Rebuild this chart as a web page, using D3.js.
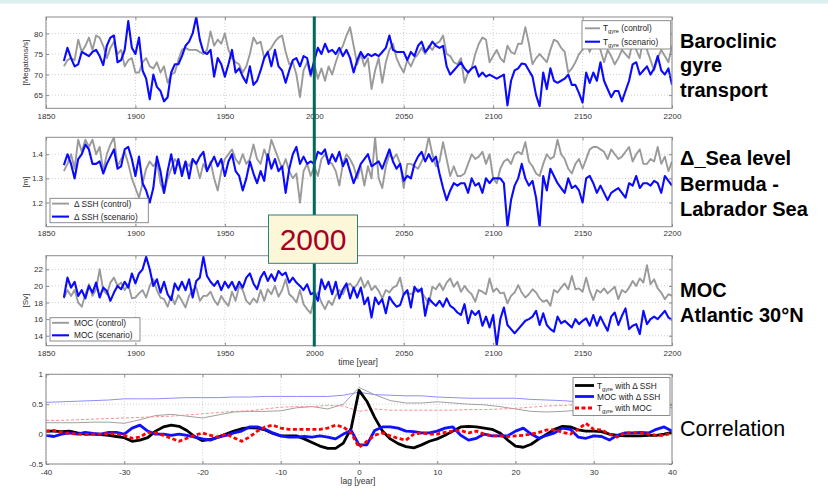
<!DOCTYPE html>
<html>
<head>
<meta charset="utf-8">
<script src="https://cdn.jsdelivr.net/npm/d3@7"></script>
<style>
  html, body { margin: 0; padding: 0; background: #ffffff; }
  svg { display: block; font-family: "Liberation Sans", Arial, Helvetica, sans-serif; }
</style>
</head>
<body>
<svg id="chart" width="828" height="495"></svg>
<script>
// ---------- time axis: model years 1860..2200, one value every 2 years ----------
const firstYear = 1860, lastYear = 2200, yearStep = 2;

// Baroclinic gyre transport [Megatons/s]
const tgyreControl = [
  72.0, 73.5, 74.0, 73.5, 78.5,  75.5, 77.0, 79.0, 76.0, 79.5,
  79.0, 77.0, 74.0, 76.5, 78.0,  75.0, 76.0, 72.0, 73.5, 74.0,
  70.5, 70.5, 73.0, 74.0, 72.0,  71.5, 73.0, 70.5, 72.0, 68.0,
  70.0, 70.5, 73.5, 76.0, 76.5,  76.0, 76.0, 76.0, 75.5, 75.0,
  76.0, 80.5, 77.0, 78.5, 77.5,  80.0, 76.0, 74.0, 73.0, 72.5,
  70.5, 72.0, 75.0, 79.0, 77.5,  78.0, 74.0, 75.5, 76.5, 78.0,
  79.0, 79.5, 75.5, 72.5, 73.0,  70.0, 64.5, 71.0, 73.0, 69.5,
  72.5, 69.0, 71.5, 68.5, 72.0,  70.0, 73.0, 75.5, 77.0, 79.5,
  81.5, 77.0, 72.5, 75.0, 72.0,  74.0, 66.5, 71.0, 74.0, 68.0,
  73.0, 76.0, 77.5, 74.0, 72.0,  70.5, 73.5, 72.0, 74.0, 75.0,
  76.5, 75.0, 77.0, 76.0, 77.5,  78.0, 79.5, 75.0, 74.5, 73.0,
  72.5, 74.0, 68.0, 70.5, 71.5,  75.0, 77.5, 79.0, 78.5, 73.0,
  74.5, 76.0, 74.0, 73.0, 77.0,  75.5, 75.0, 77.5, 77.5, 81.5,
  77.5, 72.5, 74.0, 75.0, 74.0,  73.0, 76.0, 78.5, 78.0, 76.5,
  75.5, 70.5, 71.5, 73.0, 75.0,  76.0, 78.0, 75.5, 78.0, 80.5,
  76.0, 73.0, 76.0, 74.5, 72.5,  74.0, 76.0, 75.0, 74.0, 78.0,
  76.0, 74.0, 79.0, 76.0, 73.5,  71.0, 74.0, 76.0, 74.5, 73.0,
  77.0
];
const tgyreScenario = [
  73.3, 76.5, 74.0, 72.0, 72.5,  75.5, 75.0, 74.5, 75.5, 76.0,
  74.5, 72.3, 77.0, 79.0, 79.5,  73.0, 73.5, 76.0, 83.0, 76.5,
  75.0, 79.0, 71.0, 69.0, 64.0,  70.0, 67.0, 66.0, 63.5, 64.5,
  70.5, 72.5, 72.5, 74.5, 77.0,  78.0, 80.0, 84.0, 78.5, 75.5,
  75.0, 76.0, 69.5, 74.0, 72.5,  69.5, 72.5, 76.0, 70.5, 71.5,
  69.5, 68.0, 72.0, 67.5, 68.5,  71.0, 74.0, 75.5, 72.0, 76.0,
  72.0, 71.0, 68.0, 71.0, 73.5,  74.0, 72.0, 74.5, 74.0, 70.0,
  73.5, 76.5, 75.0, 77.5, 75.5,  76.0, 75.0, 76.5, 74.5, 76.0,
  74.0, 70.5, 73.5, 75.5, 74.0,  75.0, 74.5, 75.0, 74.5, 75.5,
  76.5, 79.5, 76.0, 75.5, 75.5,  75.5, 73.5, 75.5, 74.5, 77.0,
  78.0, 75.5, 76.5, 78.0, 77.0,  76.5, 77.0, 72.0, 70.0, 71.0,
  72.0, 73.0, 71.5, 70.5, 71.5,  72.0, 69.5, 70.5, 69.5, 70.0,
  69.5, 69.0, 69.5, 70.0, 62.5,  68.5, 71.0, 71.5, 72.7, 72.5,
  71.0, 69.5, 65.0, 62.3, 70.5,  66.5, 71.5, 68.5, 68.0, 68.5,
  69.0, 70.0, 67.5, 67.5, 65.5,  63.2, 70.5, 68.0, 70.5, 68.5,
  73.0, 68.5, 66.5, 64.5, 66.0,  66.0, 63.5, 66.0, 68.5, 72.5,
  73.0, 70.0, 71.0, 72.0, 70.0,  71.5, 74.5, 71.0, 70.0, 71.5,
  67.5
];

// Sea level difference Bermuda - Labrador Sea [m]
const sshControl = [
  1.33, 1.36, 1.40, 1.34, 1.46,  1.41, 1.46, 1.43, 1.46, 1.40,
  1.43, 1.33, 1.40, 1.44, 1.47,  1.35, 1.38, 1.41, 1.36, 1.30,
  1.26, 1.22, 1.28, 1.34, 1.37,  1.35, 1.37, 1.28, 1.24, 1.30,
  1.34, 1.38, 1.36, 1.33, 1.37,  1.35, 1.38, 1.36, 1.30, 1.36,
  1.33, 1.37, 1.30, 1.25, 1.33,  1.38, 1.40, 1.42, 1.38, 1.36,
  1.40, 1.36, 1.38, 1.44, 1.38,  1.36, 1.42, 1.38, 1.46, 1.42,
  1.38, 1.34, 1.38, 1.33, 1.30,  1.32, 1.20, 1.33, 1.36, 1.31,
  1.35, 1.31, 1.38, 1.40, 1.37,  1.36, 1.33, 1.27, 1.36, 1.40,
  1.38, 1.35, 1.30, 1.35, 1.27,  1.35, 1.30, 1.47, 1.30, 1.26,
  1.35, 1.40, 1.38, 1.40, 1.36,  1.26, 1.36, 1.36, 1.35, 1.34,
  1.37, 1.40, 1.47, 1.40, 1.35,  1.37, 1.45, 1.38, 1.31, 1.35,
  1.31, 1.31, 1.32, 1.36, 1.40,  1.38, 1.39, 1.41, 1.36, 1.40,
  1.30, 1.28, 1.34, 1.37, 1.38,  1.36, 1.40, 1.41, 1.40, 1.45,
  1.37, 1.35, 1.32, 1.31, 1.36,  1.40, 1.38, 1.39, 1.46, 1.40,
  1.38, 1.34, 1.32, 1.36, 1.38,  1.34, 1.38, 1.42, 1.43, 1.43,
  1.42, 1.41, 1.38, 1.42, 1.40,  1.38, 1.39, 1.41, 1.43, 1.37,
  1.40, 1.42, 1.36, 1.36, 1.38,  1.37, 1.43, 1.36, 1.39, 1.33,
  1.37
];
const sshScenario = [
  1.355, 1.40, 1.36, 1.30, 1.38, 1.40, 1.44, 1.42, 1.36, 1.36,
  1.37, 1.32, 1.36, 1.39, 1.42,  1.34, 1.35, 1.42, 1.43, 1.38,
  1.31, 1.39, 1.28, 1.25, 1.20,  1.26, 1.39, 1.33, 1.24, 1.33,
  1.40, 1.32, 1.38, 1.31, 1.37,  1.30, 1.38, 1.36, 1.39, 1.41,
  1.33, 1.36, 1.39, 1.35, 1.38,  1.31, 1.37, 1.40, 1.33, 1.31,
  1.25, 1.30, 1.37, 1.32, 1.28,  1.33, 1.29, 1.40, 1.34, 1.38,
  1.33, 1.35, 1.24, 1.34, 1.40,  1.43, 1.36, 1.39, 1.36, 1.37,
  1.36, 1.41, 1.40, 1.42, 1.36,  1.40, 1.37, 1.41, 1.35, 1.38,
  1.33, 1.28, 1.32, 1.36, 1.38,  1.40, 1.35, 1.36, 1.37, 1.34,
  1.38, 1.42, 1.37, 1.34, 1.36,  1.29, 1.31, 1.30, 1.36, 1.39,
  1.41, 1.37, 1.40, 1.37, 1.39,  1.32, 1.26, 1.21, 1.25, 1.28,
  1.27, 1.28, 1.28, 1.24, 1.30,  1.27, 1.28, 1.24, 1.30, 1.28,
  1.30, 1.30, 1.30, 1.28, 1.10,  1.21, 1.27, 1.30, 1.36, 1.30,
  1.27, 1.29, 1.22, 1.10, 1.31,  1.25, 1.34, 1.31, 1.28, 1.26,
  1.24, 1.30, 1.26, 1.27, 1.25,  1.20, 1.30, 1.31, 1.28, 1.24,
  1.27, 1.24, 1.21, 1.24, 1.25,  1.26, 1.24, 1.22, 1.28, 1.27,
  1.31, 1.26, 1.28, 1.28, 1.27,  1.29, 1.28, 1.24, 1.31, 1.29,
  1.27
];

// Meridional overturning, Atlantic 30°N [Sv]
const mocControl = [
  18.5, 19.5, 18.8, 19.5, 18.0,  17.5, 19.0, 20.2, 18.8, 19.6,
  22.0, 19.5, 19.0, 20.4, 21.0,  20.0, 20.4, 19.5, 20.2, 18.5,
  18.6, 19.1, 19.5, 18.6, 20.0,  20.8, 19.5, 18.6, 18.4, 17.5,
  18.8, 17.8, 18.9, 18.2, 17.4,  18.8, 19.5, 19.8, 18.2, 18.8,
  18.8, 19.3, 18.3, 17.7, 18.8,  18.1, 17.6, 19.3, 18.2, 20.0,
  19.5, 18.2, 17.8, 18.5, 18.0,  19.5, 18.2, 19.6, 19.0, 20.0,
  18.7, 19.5, 20.8, 19.0, 18.6,  18.0, 19.5, 17.8, 17.2, 16.7,
  18.5, 19.2, 18.0, 17.2, 18.2,  17.7, 18.8, 19.5, 19.0, 20.0,
  20.3, 19.7, 20.2, 21.0, 19.8,  20.6, 19.5, 20.0, 19.4, 18.5,
  19.5, 19.2, 19.8, 20.0, 21.0,  18.9, 19.2, 19.0, 19.3, 19.6,
  19.2, 18.6, 17.8, 19.9, 19.6,  20.3, 19.5, 20.4, 20.9, 19.9,
  20.5, 19.3, 20.0, 19.4, 19.0,  18.1, 19.5, 19.3, 19.0, 20.9,
  19.3, 19.7, 19.1, 19.2, 17.9,  18.8, 19.2, 20.1, 19.2, 18.6,
  19.0, 19.6, 19.2, 18.5, 18.1,  18.3, 17.6, 19.5, 19.2, 19.8,
  20.3, 19.6, 21.2, 19.6, 19.7,  19.3, 21.0, 19.4, 18.3, 19.5,
  19.2, 19.7, 19.1, 19.5, 19.9,  18.4, 19.5, 19.2, 19.8, 20.6,
  20.0, 20.9, 20.4, 22.5, 20.2,  20.8, 19.7, 19.2, 18.4, 19.0,
  18.8
];
const mocScenario = [
  18.6, 21.0, 19.8, 20.5, 18.8,  19.5, 18.5, 20.0, 19.2, 20.4,
  18.6, 19.8, 19.4, 18.2, 19.2,  20.0, 19.6, 20.5, 19.8, 21.5,
  20.3, 21.5, 22.0, 23.5, 22.0,  20.0, 20.8, 19.2, 20.5, 19.0,
  18.3, 20.3, 19.5, 20.5, 19.5,  20.8, 18.6, 20.6, 21.0, 23.5,
  21.2, 20.5, 20.0, 20.6, 19.5,  20.5, 19.8, 20.5, 19.5, 20.5,
  19.8, 21.0, 21.5, 20.3, 19.6,  21.0, 21.7, 20.6, 21.4, 20.6,
  21.8, 21.3, 21.6, 20.4, 21.0,  20.4, 20.0, 19.5, 20.2, 19.0,
  19.2, 18.2, 20.8, 19.6, 20.5,  19.0, 20.5, 18.5, 19.6, 20.3,
  18.5, 19.8, 18.6, 19.8, 17.8,  18.6, 16.2, 18.6, 17.8, 18.4,
  16.7, 18.7, 18.0, 17.5, 17.7,  19.0, 19.5, 17.4, 19.9, 19.3,
  19.7, 16.4, 18.5, 18.0, 17.6,  18.2, 17.5, 18.5, 17.6, 17.3,
  16.8, 16.5, 17.8, 15.5, 17.0,  16.5, 17.0, 15.2, 16.3, 15.0,
  16.5, 12.8, 16.0, 17.4, 15.3,  14.8, 14.3, 14.8, 15.3, 15.8,
  16.0, 16.3, 17.0, 15.3, 16.7,  15.3, 14.8, 14.5, 16.3, 15.5,
  15.8, 15.4, 15.0, 16.0, 15.4,  15.8, 16.1, 15.2, 16.5, 15.2,
  16.3, 15.4, 14.6, 16.3, 16.8,  15.3, 16.4, 17.3, 14.8, 15.2,
  15.4, 14.2, 17.0, 15.4, 16.0,  16.3, 16.0, 16.5, 17.0, 16.2,
  15.9
];

// ---------- lag correlations, lags -40..40 years ----------
const corrTgyreSsh = [
   0.05, 0.05, 0.04, 0.05, 0.02, 0.00, 0.00,-0.01,-0.02,-0.04,
  -0.06,-0.12,-0.10,-0.06, 0.05, 0.12, 0.15, 0.13, 0.06,-0.04,
  -0.11,-0.09,-0.05, 0.00, 0.05, 0.09, 0.11, 0.10, 0.07, 0.01,
  -0.03,-0.03,-0.03,-0.08,-0.14,-0.20,-0.24,-0.24,-0.15, 0.10,
   0.73,
   0.55, 0.28, 0.05,-0.08,-0.16,-0.21,-0.23,-0.18,-0.12,-0.08,
  -0.02, 0.05, 0.12, 0.13, 0.12, 0.10, 0.08, 0.02,-0.10,-0.20,
  -0.22,-0.17,-0.08, 0.00, 0.08, 0.13, 0.12, 0.07, 0.05, 0.05,
   0.04, 0.00,-0.02,-0.03,-0.03,-0.03,-0.02,-0.02, 0.00, 0.03
];
const corrMocSsh = [
  -0.02,-0.04, 0.00, 0.02, 0.00, 0.03, 0.01, 0.00, 0.03, 0.03,
   0.00, 0.10, 0.15, 0.05, 0.00, 0.00,-0.02, 0.00,-0.02,-0.05,
  -0.08,-0.10,-0.05,-0.02, 0.02, 0.05, 0.12, 0.12, 0.08, 0.02,
  -0.03,-0.05,-0.05,-0.04,-0.05,-0.03,-0.05,-0.08, 0.00, 0.06,
  -0.18,
  -0.18, 0.06, 0.12, 0.12, 0.10, 0.05, 0.04, 0.02, 0.02, 0.05,
   0.10, 0.12,-0.02,-0.10,-0.07, 0.00,-0.03,-0.03,-0.03, 0.05,
   0.10, 0.00,-0.07,-0.02, 0.02, 0.10, 0.08,-0.05,-0.07,-0.03,
  -0.04,-0.10,-0.02, 0.02, 0.02, 0.03, 0.02, 0.08, 0.12, 0.05
];
const corrTgyreMoc = [
   0.05, 0.06, 0.03, 0.01, 0.00,-0.01, 0.00, 0.00, 0.01, 0.00,
  -0.02,-0.07,-0.05, 0.03, 0.02,-0.02,-0.07,-0.12,-0.07,-0.02,
   0.02,-0.02,-0.05, 0.00,-0.06,-0.12,-0.05, 0.05, 0.12, 0.15,
   0.10, 0.08, 0.08, 0.08, 0.08, 0.08, 0.10, 0.15, 0.12, 0.02,
  -0.22,
  -0.12,-0.02, 0.02,-0.03,-0.07,-0.10, 0.00, 0.02, 0.00, 0.00,
   0.03, 0.05, 0.06, 0.02, 0.05, 0.00,-0.03,-0.03,-0.04,-0.03,
  -0.02, 0.00, 0.03, 0.07, 0.07, 0.03, 0.00, 0.08, 0.18, 0.08,
   0.07, 0.00,-0.05, 0.02, 0.02, 0.02, 0.00,-0.02,-0.02, 0.02
];
// thin companion curves, every 2 years of lag
const thinMocSsh = [
  0.53, 0.54, 0.55, 0.56, 0.57, 0.59, 0.59, 0.59, 0.60, 0.61,
  0.61, 0.61, 0.62, 0.62, 0.63, 0.63, 0.63, 0.63, 0.63, 0.65,
  0.70,
  0.66, 0.65, 0.64, 0.64, 0.62, 0.61, 0.60, 0.60, 0.60, 0.60,
  0.58, 0.57, 0.56, 0.54, 0.53, 0.51, 0.50, 0.48, 0.46, 0.44
];
const thinTgyreSsh = [
  0.19, 0.19, 0.19, 0.20, 0.20, 0.18, 0.24, 0.31, 0.33, 0.30,
  0.27, 0.32, 0.37, 0.38, 0.38, 0.39, 0.44, 0.46, 0.42, 0.50,
  0.78,
  0.66, 0.56, 0.52, 0.52, 0.54, 0.52, 0.50, 0.49, 0.46, 0.42,
  0.38, 0.37, 0.38, 0.40, 0.42, 0.44, 0.45, 0.46, 0.47, 0.48
];
const thinTgyreMoc = [
  0.23, 0.23, 0.24, 0.25, 0.26, 0.27, 0.28, 0.29, 0.30, 0.32,
  0.34, 0.36, 0.38, 0.39, 0.42, 0.45, 0.46, 0.46, 0.48, 0.47,
  0.38,
  0.42, 0.40, 0.40, 0.40, 0.40, 0.40, 0.41, 0.41, 0.42, 0.43,
  0.45, 0.47, 0.48, 0.49, 0.50, 0.50, 0.50, 0.50, 0.50, 0.50
];

// ---------- ticks ----------
const yearTicks = [1850, 1900, 1950, 2000, 2050, 2100, 2150, 2200];
const lagTicks = [-40, -30, -20, -10, 0, 10, 20, 30, 40];
const tgyreTicks = [65, 70, 75, 80];
const sshTicks = [1.2, 1.3, 1.4];
const mocTicks = [14, 16, 18, 20, 22];
const corrTicks = [-0.5, 0, 0.5, 1];

// ---------- drawing ----------
const svg = d3.select("#chart");
svg.append("rect").attr("x", 0).attr("y", 0).attr("width", 828).attr("height", 3.5).attr("fill", "#dcefef");

const years = d3.range(firstYear, lastYear + 1, yearStep);
const lags = d3.range(-40, 41, 1);
const thinLags = d3.range(-40, 41, 2);

const XL = 46, XR = 672;
const xTime = d3.scaleLinear().domain([1850, 2200]).range([XL, XR]);
const xLag = d3.scaleLinear().domain([-40, 40]).range([XL, XR]);

const GRAY = "#9a9a9a", BLUE = "#0a0aff";
const labelFont = "8px";

// hiddenXLabels: tick labels that sit under the year-2000 call-out box
function panel(id, x, y, xTicks, yTicks, labelPad, yLabel, hiddenXLabels) {
  const g = svg.append("g").attr("class", "panel-" + id);
  const [top, bottom] = [y.range()[1], y.range()[0]];
  const [left, right] = x.range();
  g.append("rect").attr("x", left).attr("y", top).attr("width", right - left).attr("height", bottom - top).attr("fill", "#ffffff");
  // dotted grid
  g.selectAll("line.gx").data(xTicks).join("line").attr("class", "gx")
    .attr("x1", d => x(d)).attr("x2", d => x(d)).attr("y1", top).attr("y2", bottom)
    .attr("stroke", "#c4c4c4").attr("stroke-width", 0.8).attr("stroke-dasharray", "1,2");
  g.selectAll("line.gy").data(yTicks).join("line").attr("class", "gy")
    .attr("x1", left).attr("x2", right).attr("y1", d => y(d)).attr("y2", d => y(d))
    .attr("stroke", "#c4c4c4").attr("stroke-width", 0.8).attr("stroke-dasharray", "1,2");
  svg.append("clipPath").attr("id", "clip-" + id).append("rect")
    .attr("x", left).attr("y", top).attr("width", right - left).attr("height", bottom - top);
  const plot = g.append("g").attr("clip-path", `url(#clip-${id})`);
  const axes = g.append("g");
  const hidden = hiddenXLabels || [];
  const fmt = d => String(d);
  const xFmt = d => hidden.includes(d) ? "" : String(d);
  const style = sel => {
    sel.select(".domain").remove();
    sel.selectAll(".tick line").attr("stroke", "#8a8a8a");
    sel.selectAll("text").attr("fill", "#333").style("font-size", labelFont)
      .style("font-family", '"Liberation Sans", Arial, sans-serif');
  };
  axes.append("g").attr("transform", `translate(0,${bottom})`)
    .call(d3.axisBottom(x).tickValues(xTicks).tickSize(-3).tickPadding(labelPad).tickFormat(xFmt)).call(style);
  axes.append("g").attr("transform", `translate(0,${top})`)
    .call(d3.axisTop(x).tickValues(xTicks).tickSize(-3).tickFormat("")).call(style);
  axes.append("g").attr("transform", `translate(${left},0)`)
    .call(d3.axisLeft(y).tickValues(yTicks).tickSize(-3).tickPadding(3).tickFormat(fmt)).call(style);
  axes.append("g").attr("transform", `translate(${right},0)`)
    .call(d3.axisRight(y).tickValues(yTicks).tickSize(-3).tickFormat("")).call(style);
  axes.append("rect").attr("x", left).attr("y", top).attr("width", right - left).attr("height", bottom - top)
    .attr("fill", "none").attr("stroke", "#8a8a8a").attr("stroke-width", 1);
  if (yLabel) {
    axes.append("text").attr("transform", `translate(25.5,${(top + bottom) / 2}) rotate(-90)`)
      .attr("text-anchor", "middle").attr("dy", "0.35em").attr("fill", "#333")
      .style("font-size", labelFont).text(yLabel);
  }
  return { g, plot, x, y };
}

function series(p, xs, values, color, width, dash) {
  const line = d3.line().x((d, i) => p.x(xs[i])).y(d => p.y(d));
  const path = p.plot.append("path").datum(values).attr("d", line)
    .attr("fill", "none").attr("stroke", color).attr("stroke-width", width)
    .attr("stroke-linejoin", "round");
  if (dash) path.attr("stroke-dasharray", dash);
}

// legend rows: {y, color, width, dash, parts: [[text, isSubscript]...]}
function legend(box, rows, lineX, textX) {
  const g = svg.append("g");
  g.append("rect").attr("x", box[0]).attr("y", box[1]).attr("width", box[2]).attr("height", box[3])
    .attr("fill", "#ffffff").attr("stroke", "#808080").attr("stroke-width", 0.9);
  rows.forEach(r => {
    g.append("line").attr("x1", lineX[0]).attr("x2", lineX[1]).attr("y1", r.y).attr("y2", r.y)
      .attr("stroke", r.color).attr("stroke-width", r.width).attr("stroke-dasharray", r.dash || null);
    const t = g.append("text").attr("x", textX).attr("y", r.y + 3).attr("fill", "#222").style("font-size", "8.3px");
    let shifted = false;
    r.parts.forEach(([s, sub]) => {
      if (sub) { t.append("tspan").attr("dy", 2).style("font-size", "5.6px").text(s); shifted = true; }
      else { t.append("tspan").attr("dy", shifted ? -2 : 0).text(s); shifted = false; }
    });
  });
}

// Panel 1: gyre transport
const p1 = panel("tgyre", xTime, d3.scaleLinear().domain([61.8, 84]).range([108.3, 17]), yearTicks, tgyreTicks, 5.5, "[Megatons/s]");
series(p1, years, tgyreControl, GRAY, 1.9);
series(p1, years, tgyreScenario, BLUE, 2.1);
legend([582, 20.7, 88.7, 28.3], [
  { y: 28.3, color: GRAY, width: 1.9, parts: [["T"], ["gyre", true], [" (control)"]] },
  { y: 41.7, color: BLUE, width: 2.1, parts: [["T"], ["gyre", true], [" (scenario)"]] }
], [585, 600], 603);

// Panel 2: sea level difference
const p2 = panel("ssh", xTime, d3.scaleLinear().domain([1.1, 1.47]).range([226.7, 137.3]), yearTicks, sshTicks, 4, "[m]", [2000]);
series(p2, years, sshControl, GRAY, 1.9);
series(p2, years, sshScenario, BLUE, 2.1);
legend([50, 198.3, 98.3, 24.4], [
  { y: 203.6, color: GRAY, width: 1.9, parts: [["\u0394 SSH (control)"]] },
  { y: 216.6, color: BLUE, width: 2.1, parts: [["\u0394 SSH (scenario)"]] }
], [52, 69], 74);

// Panel 3: MOC
const p3 = panel("moc", xTime, d3.scaleLinear().domain([12.8, 23.64]).range([345.7, 255.7]), yearTicks, mocTicks, 5, "[Sv]");
series(p3, years, mocControl, GRAY, 1.9);
series(p3, years, mocScenario, BLUE, 2.1);
legend([50, 317.7, 90, 23.3], [
  { y: 322.8, color: GRAY, width: 1.9, parts: [["MOC (control)"]] },
  { y: 335.3, color: BLUE, width: 2.1, parts: [["MOC (scenario)"]] }
], [52, 69], 74);
svg.append("text").attr("x", 358).attr("y", 364.5).attr("text-anchor", "middle")
  .attr("fill", "#333").style("font-size", "8.5px").text("time [year]");

// Panel 4: lag correlations
const p4 = panel("corr", xLag, d3.scaleLinear().domain([-0.5, 1]).range([464, 374.3]), lagTicks, corrTicks, 5.5, null);
series(p4, thinLags, thinMocSsh, "#8c8cff", 1);
series(p4, thinLags, thinTgyreSsh, "#a0a0a0", 1);
series(p4, thinLags, thinTgyreMoc, "#ff8c8c", 1, "3,2");
series(p4, lags, corrTgyreSsh, "#000000", 2.8);
series(p4, lags, corrMocSsh, "#1010ff", 2.8);
series(p4, lags, corrTgyreMoc, "#ff0000", 2.8, "4,2.5");
legend([573, 377.5, 97, 38], [
  { y: 385.5, color: "#000000", width: 2.8, parts: [["T"], ["gyre", true], [" with \u0394 SSH"]] },
  { y: 396.5, color: "#1010ff", width: 2.8, parts: [["MOC with \u0394 SSH"]] },
  { y: 408, color: "#ff0000", width: 2.8, dash: "4,2.5", parts: [["T"], ["gyre", true], [" with MOC"]] }
], [575, 594], 597);
svg.append("text").attr("x", 358).attr("y", 484).attr("text-anchor", "middle")
  .attr("fill", "#333").style("font-size", "8.5px").text("lag [year]");

// Year-2000 marker across the three time panels
svg.append("line").attr("x1", xTime(2000)).attr("x2", xTime(2000)).attr("y1", 16.5).attr("y2", 346.5)
  .attr("stroke", "#00695c").attr("stroke-width", 3);
svg.append("rect").attr("x", 268.5).attr("y", 215).attr("width", 89).attr("height", 48.3)
  .attr("fill", "#fdf7da").attr("stroke", "#2f8076").attr("stroke-width", 1);
svg.append("text").attr("x", 313).attr("y", 250).attr("text-anchor", "middle")
  .attr("fill", "#a8001e").style("font-size", "30px")
  .style("font-family", '"Liberation Sans", Arial, sans-serif').text("2000");

// Panel captions on the right
const captions = [
  { lines: ["Baroclinic", "gyre", "transport"], y0: 47.7, step: 24.5, weight: "bold", size: "20px" },
  { lines: ["\u0394_Sea level", "Bermuda -", "Labrador Sea"], y0: 165, step: 25.7, weight: "bold", size: "20px" },
  { lines: ["MOC", "Atlantic 30\u00b0N"], y0: 296.7, step: 25.6, weight: "bold", size: "20px" },
  { lines: ["Correlation"], y0: 435.7, step: 0, weight: "normal", size: "21.5px" }
];
captions.forEach(c => {
  c.lines.forEach((s, i) => {
    svg.append("text").attr("x", 680).attr("y", c.y0 + i * c.step)
      .attr("fill", "#000").style("font-size", c.size).style("font-weight", c.weight)
      .style("font-family", '"Liberation Sans", Arial, sans-serif').text(s);
  });
});
</script>
</body>
</html>
